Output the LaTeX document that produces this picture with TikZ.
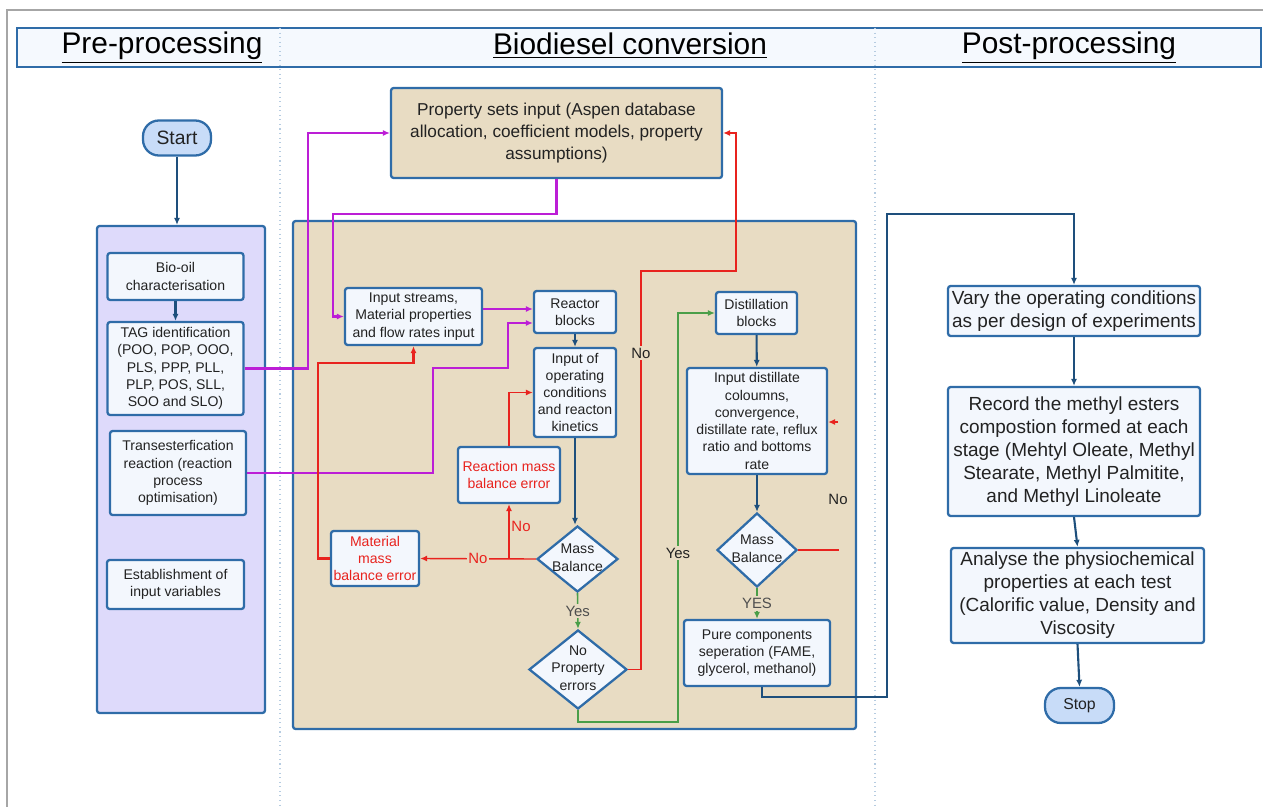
\documentclass[tikz,border=0pt]{standalone}
\usepackage{fontspec}
\setmainfont{Liberation Sans}
\usetikzlibrary{shapes.geometric,arrows.meta,calc}

\definecolor{boxline}{HTML}{2F6CA8}
\definecolor{boxfill}{HTML}{F3F7FD}
\definecolor{lavender}{HTML}{DEDAFB}
\definecolor{tan}{HTML}{E8DCC3}
\definecolor{termfill}{HTML}{C8DCF8}
\definecolor{hdrfill}{HTML}{F5F9FE}
\definecolor{navy}{HTML}{1E4F7C}
\definecolor{purp}{HTML}{BC1ED6}
\definecolor{errred}{HTML}{E8231E}
\definecolor{okgreen}{HTML}{4A9E48}
\definecolor{txt}{HTML}{222222}

\newcommand{\dtxt}[1]{\makebox[0pt]{\begin{tabular}{@{}c@{}}#1\end{tabular}}}

\tikzset{
  wh/.style 2 args={minimum width=#1*0.02cm, minimum height=#2*0.02cm},
  box/.style={draw=boxline, fill=boxfill, line width=1.3pt, rounded corners=1.5pt,
    inner sep=1pt, align=center, text=txt, font=\fontsize{8}{9.8}\selectfont},
  bigbox/.style={box, font=\fontsize{10.8}{13.1}\selectfont},
  errbox/.style={box, text=errred},
  dec/.style={diamond, draw=boxline, fill=boxfill, line width=1.3pt, inner sep=0pt,
    text=txt, font=\fontsize{8}{9.8}\selectfont},
  term/.style={draw=boxline, fill=termfill, line width=1.3pt, rounded corners=9pt, text=txt},
  panel/.style={draw=boxline, line width=1.3pt, rounded corners=1.5pt},
  title/.style={text=black, font=\fontsize{17}{20}\selectfont},
  sep/.style={draw=boxline!35, dotted, line width=0.6pt},
  lbl/.style={inner sep=1pt, font=\fontsize{8.5}{10}\selectfont},
  tip/.style={-{Latex[length=4pt,width=3.5pt]}},
  nline/.style={draw=navy, line width=1.2pt, tip},
  pline/.style={draw=purp, line width=1.2pt, tip},
  rline/.style={draw=errred, line width=0.8pt, tip},
  rthick/.style={draw=errred, line width=1.5pt, tip},
  gline/.style={draw=okgreen, line width=0.9pt, tip}
}

\begin{document}
\begin{tikzpicture}[x=0.02cm,y=-0.02cm]
\useasboundingbox (0,0) rectangle (1263,807);

% frame and header
\draw[gray!70,line width=0.8pt] (7,807) -- (7,10) -- (1263,10);
\draw[draw=boxline,fill=hdrfill,line width=1.2pt] (17,28) rectangle (1261,67);
\draw[sep] (280,28) -- (280,807);
\draw[sep] (875,28) -- (875,807);
\node[title] (pre) at (162,48) {\underline{Pre-processing}};
\node[title] (conv) at (630,46) {\underline{Biodiesel conversion}};
\node[title] (post) at (1069,48) {\underline{Post-processing}};

% panels
\node[panel, fill=lavender, wh={168}{487}] (prepanel) at (181,469.5) {};
\node[panel, fill=tan, wh={563}{508}] (convpanel) at (574.5,475) {};

% pre-processing
\node[term, wh={68}{35}, font=\fontsize{11}{13}\selectfont] (start) at (177,138) {Start};
\node[box, wh={136}{47}] (bio) at (175.5,276.5) {Bio-oil\\characterisation};
\node[box, wh={136}{93}] (tag) at (175.5,368.5) {TAG identification\\(POO, POP, OOO,\\PLS, PPP, PLL,\\PLP, POS, SLL,\\SOO and SLO)};
\node[box, wh={136}{84}] (trans) at (178,473) {Transesterfication\\reaction (reaction\\process\\optimisation)};
\node[box, wh={137}{49}] (estab) at (175.5,584.5) {Establishment of\\input variables};

% biodiesel conversion
\node[box, fill=tan, wh={331}{90}, font=\fontsize{9.8}{12.5}\selectfont] (prop) at (556.5,133) {Property sets input (Aspen database\\allocation, coefficient models, property\\assumptions)};
\node[box, wh={137}{57}] (instr) at (413.5,316.5) {Input streams,\\Material properties\\and flow rates input};
\node[box, wh={82}{42}] (reactor) at (575,312) {Reactor\\blocks};
\node[box, wh={82}{89}] (oper) at (575,392.5) {Input of\\operating\\conditions\\and reacton\\kinetics};
\node[errbox, wh={102}{56}] (reacerr) at (509,475) {Reaction mass\\balance error};
\node[errbox, wh={88}{55}] (materr) at (375,558.5) {Material\\mass\\balance error};
\node[dec, wh={81}{66}] (mb1) at (577.5,559) {\dtxt{Mass\\Balance}};
\node[dec, wh={98}{79}] (npe) at (578,669.5) {\dtxt{No\\Property\\errors}};
\node[box, wh={81}{42}] (dist) at (756.5,313) {Distillation\\blocks};
\node[box, wh={140}{106}] (indist) at (757,421) {Input distillate\\coloumns,\\convergence,\\distillate rate, reflux\\ratio and bottoms\\rate};
\node[dec, wh={80}{74}] (mb2) at (757,550) {\dtxt{Mass\\Balance}};
\node[box, wh={146}{66}] (pure) at (757,653) {Pure components\\seperation (FAME,\\glycerol, methanol)};

% post-processing
\node[bigbox, wh={252}{50}] (vary) at (1074,311) {Vary the operating conditions\\as per design of experiments};
\node[bigbox, wh={252}{129}] (record) at (1074,451.5) {Record the methyl esters\\compostion formed at each\\stage (Mehtyl Oleate, Methyl\\Stearate, Methyl Palmitite,\\and Methyl Linoleate};
\node[bigbox, wh={253}{95}] (analyse) at (1077.5,595.5) {Analyse the physiochemical\\properties at each test\\(Calorific value, Density and\\Viscosity};
\node[term, wh={69}{35}, font=\fontsize{9}{11}\selectfont] (stop) at (1079.5,705.5) {Stop};

% pre-processing flow
\draw[nline] (start.south) -- (start.south |- prepanel.north);
\draw[nline] (bio) -- (tag);

% purple feeds
\draw[pline] (tag.east) -| (308,133) -- (prop.west);
\draw[pline] (prop.south) |- (333,214) |- (instr.west);
\draw[pline] (instr.east |- reactor.west) ++(0,-3) -- ($(reactor.west)+(0,-3)$);
\draw[pline] (trans.east) -| (433,368) -| (508,323) -- ($(reactor.west)+(0,11)$);

% reactor loop
\draw[nline] (reactor) -- (oper);
\draw[nline] (oper.south) -- (oper.south |- mb1.north);
\draw[rline] (mb1.west) -- node[lbl, fill=tan, text=errred] {No} (materr.east);
\draw[rline] (reacerr.south |- mb1.west) -- node[lbl, right, pos=0.6, text=errred] {No} (reacerr.south);
\draw[rline] (reacerr.north) |- (oper.west);
\draw[rthick] (materr.west) -| (318,363) -| (instr.south);
\draw[gline] (mb1.south) -- node[lbl, fill=tan, text=txt!80] {Yes} (npe.north);
\draw[rline] (npe.east) -| (641,271) -| (736,133) -- (prop.east);
\node[lbl, fill=tan, text=txt] (no3) at (641,353) {No};
\draw[gline] (npe.south) |- (678,722) |- (dist.west);
\node[lbl, fill=tan, text=txt] (yes2) at (678,553) {Yes};

% distillation loop
\draw[nline] (dist) -- (indist);
\draw[nline] (indist) -- (mb2);
\draw[errred, line width=0.8pt] (mb2.east) -- ++(41,0) coordinate (nostub);
\coordinate (noret) at (838,422);
\draw[rline] (noret) -- (noret -| indist.east);
\node[lbl, text=txt] (no4) at (838,499) {No};
\draw[gline] (mb2.south) -- node[lbl, fill=tan, text=txt!80] {YES} (pure.north);

% to post-processing
\draw[nline, line width=1.6pt] ($(pure.south)+(5,0)$) |- (887,697) -- (887,214) -| (vary.north);
\draw[nline] (vary) -- (record);
\draw[nline] (record.south) -- (analyse.north);
\draw[nline] (analyse.south) -- (stop.north);
\end{tikzpicture}
\end{document}
